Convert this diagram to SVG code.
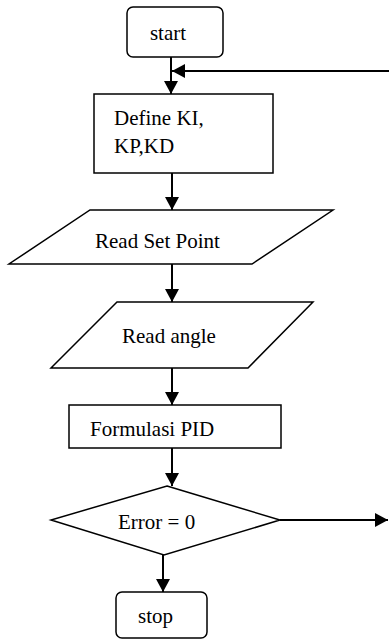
<svg xmlns="http://www.w3.org/2000/svg" width="389" height="639" viewBox="0 0 389 639">
<style>
.s{fill:#fff;stroke:#000;stroke-width:1.5}
.t{font-family:"Liberation Serif","Times New Roman",serif;font-size:21px;fill:#000}
.c{fill:none;stroke:#000;stroke-width:2}
</style>
<defs>
<marker id="ah" markerUnits="userSpaceOnUse" markerWidth="14" markerHeight="14" refX="13" refY="7" orient="auto">
<path d="M0,0 L13,7 L0,14 z" fill="#000"/>
</marker>
</defs>
<rect width="389" height="639" fill="#fff"/>
<g id="connectors">
<line class="c" x1="171" y1="57" x2="171" y2="94" marker-end="url(#ah)"/>
<line class="c" x1="389" y1="71" x2="172" y2="71" marker-end="url(#ah)"/>
<line class="c" x1="172" y1="173" x2="172" y2="210" marker-end="url(#ah)"/>
<line class="c" x1="172" y1="264" x2="172" y2="302" marker-end="url(#ah)"/>
<line class="c" x1="172" y1="368" x2="172" y2="405" marker-end="url(#ah)"/>
<line class="c" x1="172" y1="448" x2="172" y2="486" marker-end="url(#ah)"/>
<line class="c" x1="280" y1="520" x2="388" y2="520" marker-end="url(#ah)"/>
<line class="c" x1="163" y1="555" x2="163" y2="592" marker-end="url(#ah)"/>
</g>
<g id="start">
<rect class="s" x="127" y="7" width="96" height="50" rx="6"/>
<text class="t" x="168" y="40" text-anchor="middle">start</text>
</g>
<g id="define">
<rect class="s" x="94" y="94" width="179" height="79"/>
<text class="t" x="114" y="125">Define KI,</text>
<text class="t" x="114" y="153">KP,KD</text>
</g>
<g id="readsetpoint">
<polygon class="s" points="90,210 333,210 252,264 9,264"/>
<text class="t" x="95" y="248">Read Set Point</text>
</g>
<g id="readangle">
<polygon class="s" points="117,302 313,302 248,368 51,368"/>
<text class="t" x="122" y="343">Read angle</text>
</g>
<g id="formulasi">
<rect class="s" x="69" y="405" width="212" height="43"/>
<text class="t" x="90" y="436">Formulasi PID</text>
</g>
<g id="error">
<polygon class="s" points="167,486 280,520 164,555 51,520"/>
<text class="t" x="118" y="529">Error = 0</text>
</g>
<g id="stop">
<rect class="s" x="116" y="592" width="91" height="46" rx="6"/>
<text class="t" x="138" y="623">stop</text>
</g>
</svg>
